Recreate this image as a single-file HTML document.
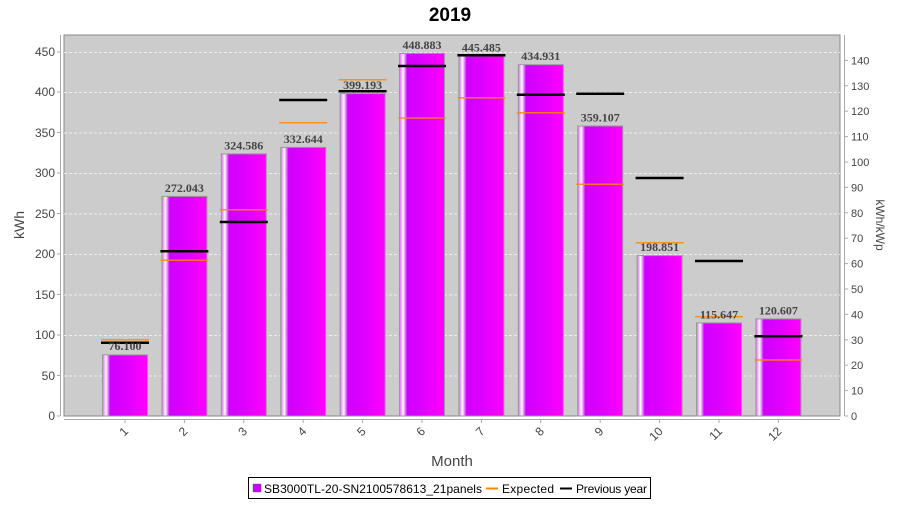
<!DOCTYPE html>
<html><head><meta charset="utf-8"><style>body{margin:0;background:#fff}</style></head><body>
<svg width="900" height="500" xmlns="http://www.w3.org/2000/svg" font-family="Liberation Sans, sans-serif">
<defs>
<linearGradient id="bg1" x1="0" x2="1" y1="0" y2="0">
<stop offset="0" stop-color="#e060ff"/><stop offset="0.08" stop-color="#ffffff"/><stop offset="0.17" stop-color="#d000ff"/><stop offset="0.5" stop-color="#dd00ff"/><stop offset="1" stop-color="#ff00ff"/>
</linearGradient>
</defs>
<text x="450" y="21" text-anchor="middle" font-size="19" font-weight="bold">2019</text>
<rect x="64" y="35" width="776" height="381" fill="#cccccc" stroke="#888" stroke-width="1"/>
<g stroke="#eee" stroke-dasharray="3,2" stroke-width="1">
<line x1="64" x2="840" y1="52.5" y2="52.5"/><line x1="64" x2="840" y1="92.5" y2="92.5"/><line x1="64" x2="840" y1="133" y2="133"/><line x1="64" x2="840" y1="173.5" y2="173.5"/><line x1="64" x2="840" y1="214" y2="214"/><line x1="64" x2="840" y1="254.5" y2="254.5"/><line x1="64" x2="840" y1="295" y2="295"/><line x1="64" x2="840" y1="335.5" y2="335.5"/><line x1="64" x2="840" y1="376" y2="376"/>
</g>
<line x1="60.5" y1="35" x2="60.5" y2="416" stroke="#aaa"/>
<g font-size="12" fill="#444" text-anchor="end">
<text x="55" y="420">0</text><text x="55" y="380">50</text><text x="55" y="339">100</text><text x="55" y="299">150</text><text x="55" y="258">200</text><text x="55" y="218">250</text><text x="55" y="177">300</text><text x="55" y="137">350</text><text x="55" y="96">400</text><text x="55" y="56">450</text>
</g>
<g stroke="#aaa"><line x1="57" x2="60" y1="416" y2="416"/><line x1="57" x2="60" y1="375.5" y2="375.5"/><line x1="57" x2="60" y1="335" y2="335"/><line x1="57" x2="60" y1="294.5" y2="294.5"/><line x1="57" x2="60" y1="254" y2="254"/><line x1="57" x2="60" y1="213.5" y2="213.5"/><line x1="57" x2="60" y1="173" y2="173"/><line x1="57" x2="60" y1="132.5" y2="132.5"/><line x1="57" x2="60" y1="92" y2="92"/><line x1="57" x2="60" y1="52" y2="52"/></g>
<line x1="844.5" y1="35" x2="844.5" y2="416" stroke="#aaa"/>
<g stroke="#aaa">
<line x1="845" x2="848" y1="416" y2="416"/><line x1="845" x2="848" y1="390.6" y2="390.6"/><line x1="845" x2="848" y1="365.2" y2="365.2"/><line x1="845" x2="848" y1="339.8" y2="339.8"/><line x1="845" x2="848" y1="314.4" y2="314.4"/><line x1="845" x2="848" y1="289" y2="289"/><line x1="845" x2="848" y1="263.6" y2="263.6"/><line x1="845" x2="848" y1="238.2" y2="238.2"/><line x1="845" x2="848" y1="212.8" y2="212.8"/><line x1="845" x2="848" y1="187.4" y2="187.4"/><line x1="845" x2="848" y1="162" y2="162"/><line x1="845" x2="848" y1="136.6" y2="136.6"/><line x1="845" x2="848" y1="111.2" y2="111.2"/><line x1="845" x2="848" y1="85.8" y2="85.8"/><line x1="845" x2="848" y1="60.4" y2="60.4"/>
</g>
<g font-size="11" fill="#444">
<text x="851" y="420">0</text><text x="851" y="394.6">10</text><text x="851" y="369.2">20</text><text x="851" y="343.8">30</text><text x="851" y="318.4">40</text><text x="851" y="293">50</text><text x="851" y="267.6">60</text><text x="851" y="242.2">70</text><text x="851" y="216.8">80</text><text x="851" y="191.4">90</text><text x="851" y="166">100</text><text x="851" y="140.6">110</text><text x="851" y="115.2">120</text><text x="851" y="89.8">130</text><text x="851" y="64.4">140</text>
</g>
<line x1="64" y1="419.5" x2="840" y2="419.5" stroke="#aaa"/>
<text x="24" y="225" font-size="14" fill="#444" text-anchor="middle" transform="rotate(-90 24 225)">kWh</text>
<text x="876" y="225" font-size="12" fill="#444" text-anchor="middle" transform="rotate(90 876 225)">kWh/kWp</text>
<text x="452" y="466" font-size="15" fill="#444" text-anchor="middle">Month</text>

<g stroke="#999" fill="url(#bg1)">
<rect x="102.5" y="354.9" width="45" height="61.1"/>
<rect x="161.9" y="196.4" width="45" height="219.6"/>
<rect x="221.3" y="153.9" width="45" height="262.1"/>
<rect x="280.7" y="147.4" width="45" height="268.6"/>
<rect x="340.1" y="93.6" width="45" height="322.4"/>
<rect x="399.5" y="53.4" width="45" height="362.6"/>
<rect x="458.9" y="56.1" width="45" height="359.9"/>
<rect x="518.3" y="64.7" width="45" height="351.3"/>
<rect x="577.7" y="126" width="45" height="290"/>
<rect x="637.1" y="255.6" width="45" height="160.4"/>
<rect x="696.5" y="322.9" width="45" height="93.1"/>
<rect x="755.9" y="318.9" width="45" height="97.1"/>
</g>
<g stroke="#ff8800" stroke-width="1.5" opacity="0.85">
<line x1="101" x2="149" y1="339.7" y2="339.7"/>
<line x1="160.4" x2="208.4" y1="260.3" y2="260.3"/>
<line x1="219.8" x2="267.8" y1="209.7" y2="209.7"/>
<line x1="279.2" x2="327.2" y1="122.7" y2="122.7"/>
<line x1="338.6" x2="386.6" y1="79.7" y2="79.7"/>
<line x1="398" x2="446" y1="118" y2="118"/>
<line x1="457.4" x2="505.4" y1="97.7" y2="97.7"/>
<line x1="516.8" x2="564.8" y1="112.7" y2="112.7"/>
<line x1="576.2" x2="624.2" y1="184.3" y2="184.3"/>
<line x1="635.6" x2="683.6" y1="242.7" y2="242.7"/>
<line x1="695" x2="743" y1="316.7" y2="316.7"/>
<line x1="754.4" x2="802.4" y1="360" y2="360"/>
</g>
<g stroke="#000" stroke-width="2.5">
<line x1="101" x2="149" y1="342.7" y2="342.7"/>
<line x1="160.4" x2="208.4" y1="251.3" y2="251.3"/>
<line x1="219.8" x2="267.8" y1="222" y2="222"/>
<line x1="279.2" x2="327.2" y1="100" y2="100"/>
<line x1="338.6" x2="386.6" y1="91.3" y2="91.3"/>
<line x1="398" x2="446" y1="66" y2="66"/>
<line x1="457.4" x2="505.4" y1="55.3" y2="55.3"/>
<line x1="516.8" x2="564.8" y1="94.7" y2="94.7"/>
<line x1="576.2" x2="624.2" y1="93.7" y2="93.7"/>
<line x1="635.6" x2="683.6" y1="178" y2="178"/>
<line x1="695" x2="743" y1="261" y2="261"/>
<line x1="754.4" x2="802.4" y1="336.3" y2="336.3"/>
</g>
<g font-size="12" font-weight="bold" font-family="Liberation Serif, serif" fill="#444" text-anchor="middle">
<text x="125" y="350">76.100</text>
<text x="184.4" y="192">272.043</text>
<text x="243.8" y="149.5">324.586</text>
<text x="303.2" y="143">332.644</text>
<text x="362.6" y="89">399.193</text>
<text x="422" y="49">448.883</text>
<text x="481.4" y="51.5">445.485</text>
<text x="540.8" y="60">434.931</text>
<text x="600.2" y="121.5">359.107</text>
<text x="659.6" y="251">198.851</text>
<text x="719" y="318.5">115.647</text>
<text x="778.4" y="314.5">120.607</text>
</g>
<g stroke="#aaa">
<line x1="125" x2="125" y1="420" y2="423"/><line x1="184.4" x2="184.4" y1="420" y2="423"/><line x1="243.8" x2="243.8" y1="420" y2="423"/><line x1="303.2" x2="303.2" y1="420" y2="423"/><line x1="362.6" x2="362.6" y1="420" y2="423"/><line x1="422" x2="422" y1="420" y2="423"/><line x1="481.4" x2="481.4" y1="420" y2="423"/><line x1="540.8" x2="540.8" y1="420" y2="423"/><line x1="600.2" x2="600.2" y1="420" y2="423"/><line x1="659.6" x2="659.6" y1="420" y2="423"/><line x1="719" x2="719" y1="420" y2="423"/><line x1="778.4" x2="778.4" y1="420" y2="423"/>
</g>
<g font-size="12" fill="#444" text-anchor="end">
<text x="129" y="432" transform="rotate(-45 129 432)">1</text>
<text x="188.4" y="432" transform="rotate(-45 188.4 432)">2</text>
<text x="247.8" y="432" transform="rotate(-45 247.8 432)">3</text>
<text x="307.2" y="432" transform="rotate(-45 307.2 432)">4</text>
<text x="366.6" y="432" transform="rotate(-45 366.6 432)">5</text>
<text x="426" y="432" transform="rotate(-45 426 432)">6</text>
<text x="485.4" y="432" transform="rotate(-45 485.4 432)">7</text>
<text x="544.8" y="432" transform="rotate(-45 544.8 432)">8</text>
<text x="604.2" y="432" transform="rotate(-45 604.2 432)">9</text>
<text x="663.6" y="432" transform="rotate(-45 663.6 432)">10</text>
<text x="723" y="432" transform="rotate(-45 723 432)">11</text>
<text x="782.4" y="432" transform="rotate(-45 782.4 432)">12</text>
</g>
<rect x="248.5" y="477.5" width="402" height="21" fill="#fff" stroke="#000"/>
<rect x="253" y="484" width="8" height="8" fill="#cc00ff" stroke="#666" stroke-width="0.5"/>
<text x="264" y="493" font-size="12" textLength="218">SB3000TL-20-SN2100578613_21panels</text>
<line x1="486" x2="498" y1="488.5" y2="488.5" stroke="#ff8800" stroke-width="2"/>
<text x="502" y="493" font-size="12" textLength="52">Expected</text>
<line x1="560" x2="572" y1="488.5" y2="488.5" stroke="#000" stroke-width="2"/>
<text x="576" y="493" font-size="12" textLength="71">Previous year</text>
</svg>
</body></html>
